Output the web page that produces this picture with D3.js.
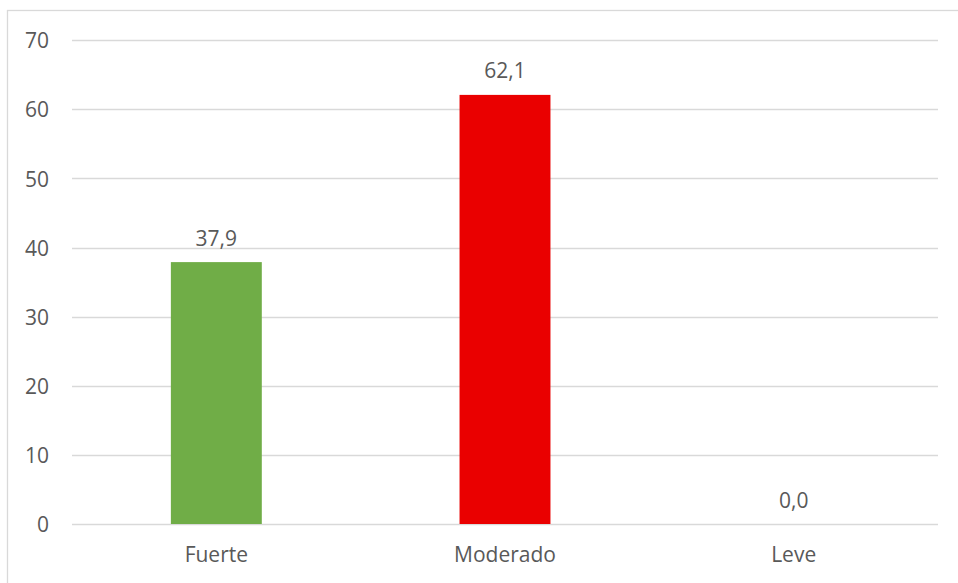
<!DOCTYPE html>
<html><head><meta charset="utf-8">
<script src="https://cdn.jsdelivr.net/npm/d3@7"></script>
<style>body{margin:0;background:#fff}svg{display:block}</style>
</head><body>
<svg id="c" width="958" height="583"></svg>
<script>
const categories = ["Fuerte", "Moderado", "Leve"];
const values = [37.9, 62.1, 0.0];
const barColors = ["#70AD47", "#EA0000", "#A5A5A5"];
const yTicks = [0, 10, 20, 30, 40, 50, 60, 70];

(function () {
const svg = d3.select("#c");
const font = "'Open Sans', 'Noto Sans', sans-serif";
const fs = 21;
const textColor = "#595959";

// outer border
svg.append("rect").attr("x", 7.5).attr("y", 10.5).attr("width", 960).attr("height", 590)
  .attr("fill", "none").attr("stroke", "#D9D9D9").attr("stroke-width", 1.3);

const pLeft = 72, pRight = 938, pTop = 40.3, pBottom = 524;
const x = d3.scaleBand().domain(categories).range([pLeft, pRight]).paddingInner(0.685).paddingOuter(0.3425);
const y = d3.scaleLinear().domain([0, 70]).range([pBottom, pTop]);

// gridlines
svg.append("g").selectAll("line").data(yTicks).join("line")
  .attr("x1", pLeft).attr("x2", pRight)
  .attr("y1", d => Math.round(y(d)) + 0.5).attr("y2", d => Math.round(y(d)) + 0.5)
  .attr("stroke", "#D9D9D9").attr("stroke-width", 1.3);

// y axis labels
const yAxis = d3.axisLeft(y).tickValues(yTicks).tickSize(0).tickPadding(0);
const ya = svg.append("g").attr("transform", `translate(${pLeft - 23},0)`).call(yAxis);
ya.select(".domain").remove();
ya.selectAll("text").attr("font-family", font).attr("font-size", fs).attr("fill", textColor).attr("dy", "0.36em");

// bars
svg.append("g").selectAll("rect").data(values).join("rect")
  .attr("x", (d, i) => x(categories[i]))
  .attr("width", x.bandwidth())
  .attr("y", d => y(d))
  .attr("height", d => y(0) - y(d))
  .attr("fill", (d, i) => barColors[i]);

// value labels
svg.append("g").selectAll("text").data(values).join("text")
  .attr("x", (d, i) => x(categories[i]) + x.bandwidth() / 2)
  .attr("y", d => y(d) - 24)
  .attr("dy", "0.36em")
  .attr("text-anchor", "middle")
  .attr("font-family", font).attr("font-size", fs).attr("fill", textColor)
  .text(d => d.toFixed(1).replace(".", ","));

// x axis labels
const xAxis = d3.axisBottom(x).tickSize(0).tickPadding(0);
const xa = svg.append("g").attr("transform", `translate(0,${pBottom + 30})`).call(xAxis);
xa.select(".domain").remove();
xa.selectAll("text").attr("font-family", font).attr("font-size", fs).attr("fill", textColor).attr("dy", "0.36em");
})();
</script>
</body></html>
